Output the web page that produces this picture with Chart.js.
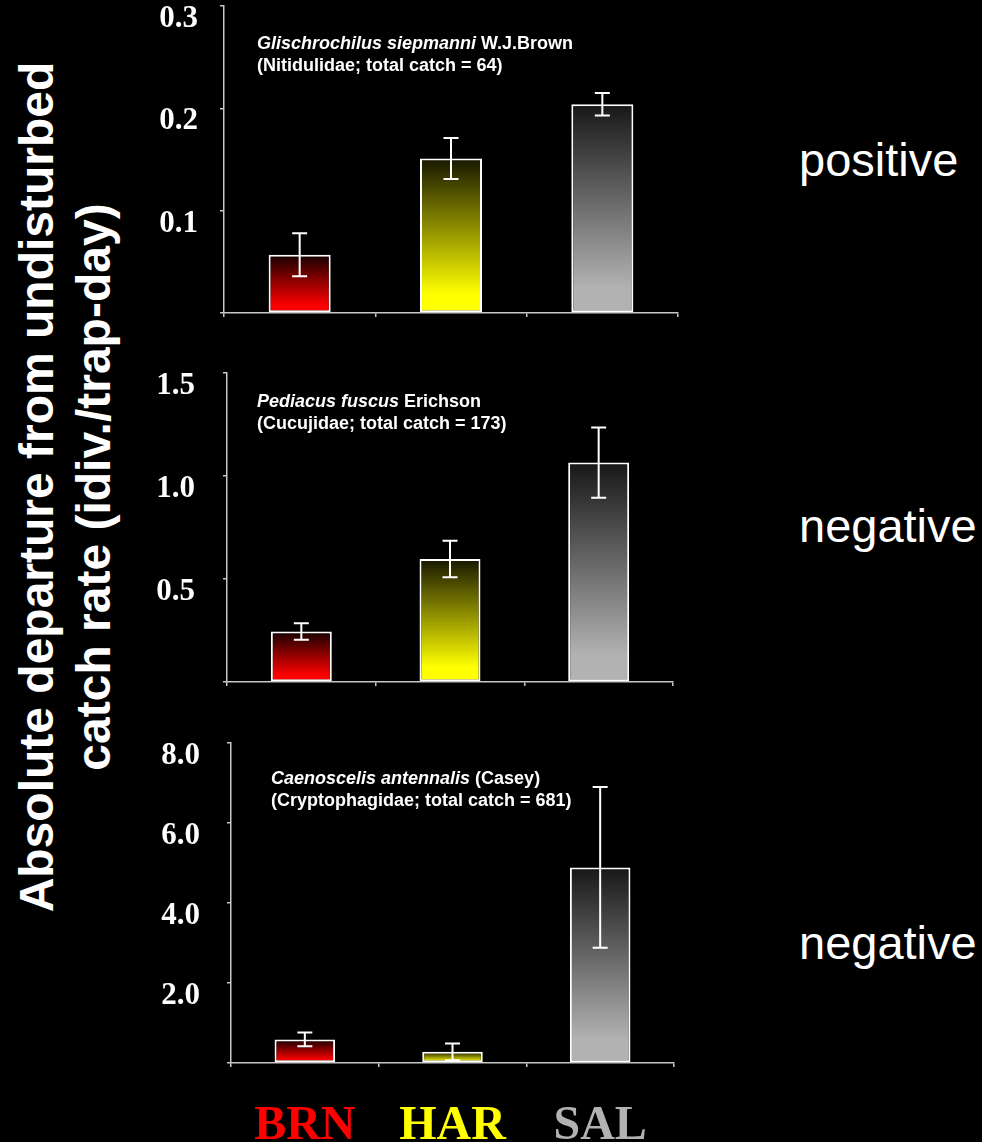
<!DOCTYPE html>
<html>
<head>
<meta charset="utf-8">
<title>Catch-rate departure by treatment</title>
<script src="https://cdn.jsdelivr.net/npm/chart.js@4/dist/chart.umd.min.js"></script>
<style>
  html, body { margin: 0; padding: 0; background: #000; }
  #page { position: relative; width: 982px; height: 1142px; background: #000; overflow: hidden;
          font-family: 'Liberation Sans', Arial, sans-serif; color: #fff; }
  canvas { position: absolute; }
  .ytitle { position: absolute; width: 1000px; height: 114px; left: -434.6px; top: 430px;
            transform: rotate(-90deg); font-weight: bold; font-size: 48px; line-height: 57px;
            text-align: center; white-space: nowrap; }
  .species { position: absolute; font-weight: bold; font-size: 18px; line-height: 22px; white-space: nowrap; }
  .trend { position: absolute; left: 799px; font-size: 47px; line-height: 47px; white-space: nowrap; }
</style>
</head>
<body>
<div id="page">
  <div class="ytitle">Absolute departure from undisturbed<br>catch rate (idiv./trap-day)</div>

  <canvas id="panel1" width="560" height="323" style="left:140px;top:0px;"></canvas>
  <canvas id="panel2" width="560" height="325" style="left:140px;top:367px;"></canvas>
  <canvas id="panel3" width="560" height="405" style="left:140px;top:737px;"></canvas>

  <div class="species" style="left:257px;top:32px;"><i>Glischrochilus siepmanni</i> W.J.Brown<br>(Nitidulidae; total catch = 64)</div>
  <div class="species" style="left:257px;top:390px;"><i>Pediacus fuscus</i> Erichson<br>(Cucujidae; total catch = 173)</div>
  <div class="species" style="left:271px;top:767px;"><i>Caenoscelis antennalis</i> (Casey)<br>(Cryptophagidae; total catch = 681)</div>

  <div class="trend" style="top:136px;">positive</div>
  <div class="trend" style="top:502px;">negative</div>
  <div class="trend" style="top:919px;">negative</div>
</div>

<script>
// Treatments: burned (BRN), harvested (HAR), salvage-logged (SAL)
const categories = ['BRN', 'HAR', 'SAL'];
const categoryColors = ['#ff0000', '#ffff00', '#b2b2b2'];
const categoryDark = ['#160000', '#171700', '#171717'];

// Absolute departure from undisturbed catch rate (individuals / trap-day) and standard errors
const glischrochilusRate = [0.057, 0.151, 0.204];
const glischrochilusSE   = [0.021, 0.020, 0.011];
const pediacusRate       = [0.245, 0.597, 1.065];
const pediacusSE         = [0.040, 0.089, 0.171];
const caenoscelisRate    = [0.59, 0.28, 4.89];
const caenoscelisSE      = [0.17, 0.21, 2.01];

// Value-axis extents and tick spacing for each species panel
const axisMax  = [0.3, 1.5, 8];
const axisStep = [0.1, 0.5, 2];

// Mean ± SE whiskers drawn over each bar
const errorBars = {
  id: 'errorBars',
  afterDatasetsDraw(chart, args, opts) {
    const se = opts.se || [];
    const data = chart.data.datasets[0].data;
    const meta = chart.getDatasetMeta(0);
    const ys = chart.scales.y;
    const ctx = chart.ctx;
    ctx.save();
    ctx.strokeStyle = '#ffffff';
    ctx.lineWidth = 2;
    meta.data.forEach((bar, i) => {
      const hi = ys.getPixelForValue(data[i] + se[i]);
      const lo = ys.getPixelForValue(data[i] - se[i]);
      const x = bar.x, cap = 7.5;
      ctx.beginPath();
      ctx.moveTo(x, hi); ctx.lineTo(x, lo);
      ctx.moveTo(x - cap, hi); ctx.lineTo(x + cap, hi);
      ctx.moveTo(x - cap, lo); ctx.lineTo(x + cap, lo);
      ctx.stroke();
    });
    ctx.restore();
  }
};

// Each bar fades from near-black at its top to the treatment colour at its base
function barGradient(c) {
  const i = c.dataIndex;
  const chart = c.chart;
  if (c.type !== 'data' || !chart.chartArea || !c.parsed) return categoryColors[i];
  const ys = chart.scales.y;
  const top = ys.getPixelForValue(c.parsed.y);
  const bottom = ys.getPixelForValue(0);
  if (!isFinite(top) || bottom - top < 1) return categoryColors[i];
  const g = chart.ctx.createLinearGradient(0, top, 0, bottom);
  g.addColorStop(0, categoryDark[i]);
  g.addColorStop(0.88, categoryColors[i]);
  g.addColorStop(1, categoryColors[i]);
  return g;
}

const axisGrey = '#c8c8c8';

function buildPanel(canvasId, values, se, k, frame, showLabels) {
  return new Chart(document.getElementById(canvasId), {
    type: 'bar',
    data: {
      labels: categories,
      datasets: [{
        data: values,
        backgroundColor: barGradient,
        borderColor: '#ffffff',
        borderWidth: 2,
        borderSkipped: false,
        barPercentage: 0.41,
        categoryPercentage: 1.0
      }]
    },
    options: {
      responsive: false,
      animation: false,
      events: [],
      layout: { padding: { top: frame.padTop, right: frame.padRight, left: 0, bottom: 0 } },
      plugins: {
        legend: { display: false },
        tooltip: { enabled: false },
        errorBars: { se: se }
      },
      scales: {
        x: {
          type: 'category',
          offset: true,
          grid: { display: true, offset: true, drawOnChartArea: false, drawTicks: true,
                  tickLength: 4, color: axisGrey, lineWidth: 1.5 },
          border: { display: true, color: axisGrey, width: 1.5 },
          ticks: {
            display: showLabels,
            autoSkip: false,
            maxRotation: 0,
            padding: 31,
            color: (t) => categoryColors[t.index],
            font: { family: "'Liberation Serif', 'Times New Roman', serif", weight: 'bold', size: 48 }
          },
          afterFit(s) { s.height = frame.xHeight; s.paddingLeft = 0; s.paddingRight = 0; }
        },
        y: {
          min: 0,
          max: axisMax[k],
          grid: { drawOnChartArea: false, drawTicks: true, tickLength: 4, color: axisGrey, lineWidth: 1.5 },
          border: { display: true, color: axisGrey, width: 1.5 },
          ticks: {
            stepSize: axisStep[k],
            color: '#ffffff',
            padding: frame.labelPad,
            labelOffset: 13,
            font: { family: "'Liberation Serif', 'Times New Roman', serif", weight: 'bold', size: 31 },
            callback: (v) => (Math.abs(v) < 1e-9 ? '' : Number(v).toFixed(1))
          },
          afterFit(s) { s.width = frame.yWidth; s.paddingTop = 0; s.paddingBottom = 0; }
        }
      }
    },
    plugins: [errorBars]
  });
}

buildPanel('panel1', glischrochilusRate, glischrochilusSE, 0,
  { padTop: 6, padRight: 22, yWidth: 84, xHeight: 10, labelPad: 22 }, false);
buildPanel('panel2', pediacusRate, pediacusSE, 1,
  { padTop: 6, padRight: 27, yWidth: 87, xHeight: 10, labelPad: 28 }, false);
buildPanel('panel3', caenoscelisRate, caenoscelisSE, 2,
  { padTop: 6, padRight: 26, yWidth: 91, xHeight: 79, labelPad: 27 }, true);
</script>
</body>
</html>
